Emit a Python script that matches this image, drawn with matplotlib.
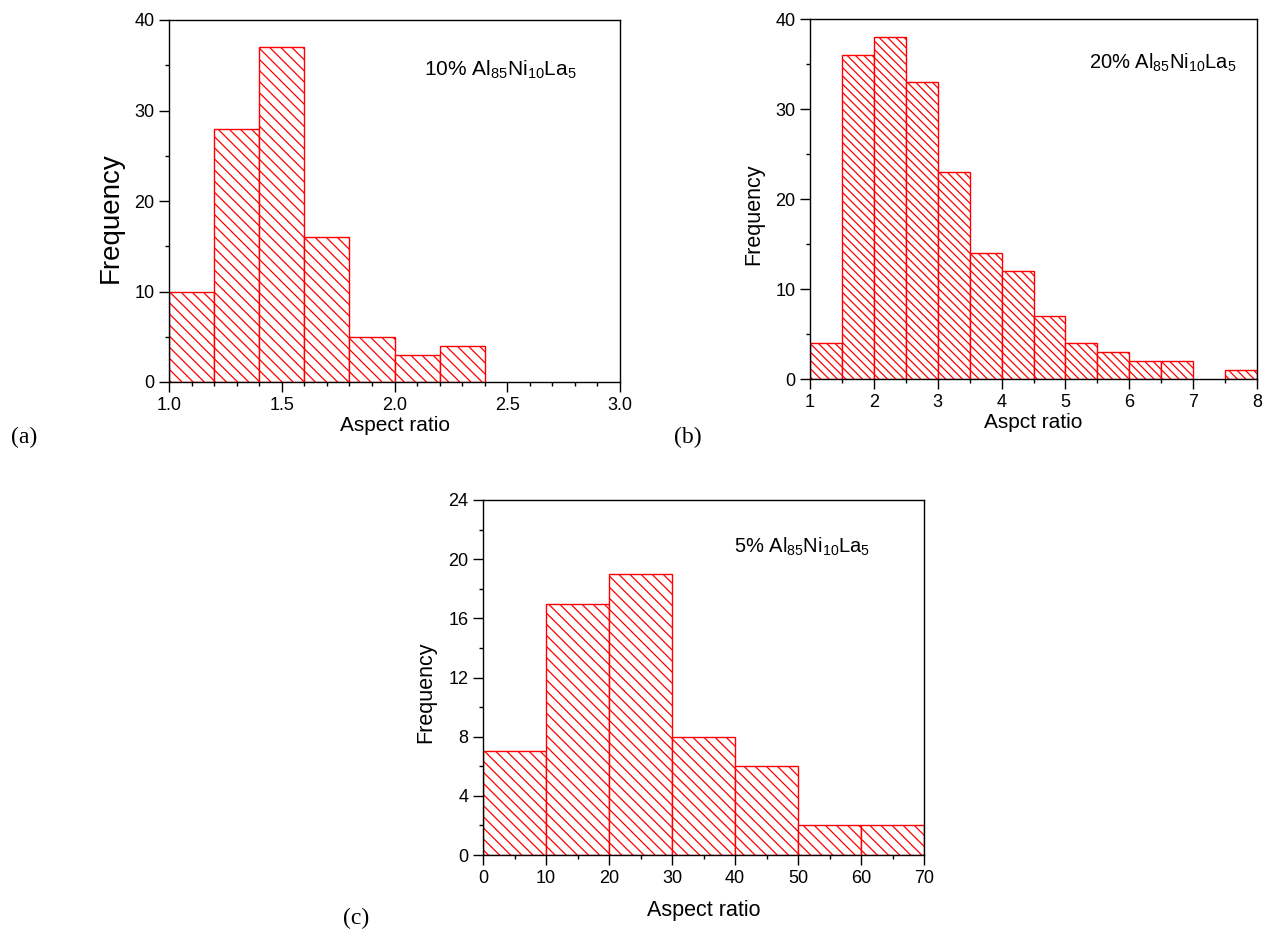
import numpy as np
import matplotlib
matplotlib.use('Agg')
import matplotlib.pyplot as plt
from matplotlib.ticker import MultipleLocator, FormatStrFormatter

plt.rcParams['font.family'] = ['Liberation Sans', 'DejaVu Sans']
plt.rcParams['mathtext.fontset'] = 'custom'
plt.rcParams['mathtext.rm'] = 'Liberation Sans'
plt.rcParams['mathtext.it'] = 'Liberation Sans'
plt.rcParams['hatch.linewidth'] = 0.9

# (a) 10% Al85Ni10La5
edges_a = [1.0, 1.2, 1.4, 1.6, 1.8, 2.0, 2.2, 2.4]
counts_a = [10, 28, 37, 16, 5, 3, 4]

# (b) 20% Al85Ni10La5
edges_b = [1.0, 1.5, 2.0, 2.5, 3.0, 3.5, 4.0, 4.5, 5.0, 5.5, 6.0, 6.5, 7.0, 7.5, 8.0]
counts_b = [4, 36, 38, 33, 23, 14, 12, 7, 4, 3, 2, 2, 0, 1]

# (c) 5% Al85Ni10La5
edges_c = [0, 10, 20, 30, 40, 50, 60, 70]
counts_c = [7, 17, 19, 8, 6, 2, 2]

label_a = r'10% Al$_{85}$Ni$_{10}$La$_{5}$'
label_b = r'20% Al$_{85}$Ni$_{10}$La$_{5}$'
label_c = r'5% Al$_{85}$Ni$_{10}$La$_{5}$'


def draw_hist(ax, edges, counts, hatch):
    edges = np.asarray(edges, dtype=float)
    widths = np.diff(edges)
    for x0, w, c in zip(edges[:-1], widths, counts):
        if c == 0:
            continue
        ax.bar(x0, c, width=w, align='edge', facecolor='white',
               edgecolor='red', hatch=hatch, linewidth=1.0, zorder=2)


def style_axes(ax, xlim, ylim, xmaj, xmin, ymaj, ymin):
    ax.set_xlim(*xlim)
    ax.set_ylim(*ylim)
    ax.xaxis.set_major_locator(MultipleLocator(xmaj))
    ax.xaxis.set_minor_locator(MultipleLocator(xmin))
    ax.yaxis.set_major_locator(MultipleLocator(ymaj))
    ax.yaxis.set_minor_locator(MultipleLocator(ymin))
    ax.tick_params(which='both', direction='out', top=False, right=False,
                   labelsize=13, width=1.0)
    ax.tick_params(which='major', length=7)
    ax.tick_params(which='minor', length=3)
    for sp in ax.spines.values():
        sp.set_linewidth(1.0)
        sp.set_zorder(5)


fig = plt.figure(figsize=(12.7, 9.39), dpi=100)

ax1 = fig.add_axes([169 / 1270, 1 - 382 / 939, 451 / 1270, 362 / 939])
draw_hist(ax1, edges_a, counts_a, '\\' * 3)
style_axes(ax1, (1.0, 3.0), (0, 40), 0.5, 0.1, 10, 5)
ax1.xaxis.set_major_formatter(FormatStrFormatter('%.1f'))
ax1.set_xlabel('Aspect ratio', fontsize=15, labelpad=2)
ax1.set_ylabel('Frequency', fontsize=20)
ax1.yaxis.set_label_coords(-0.100, 0.453)
ax1.text(2.13, 34.5, label_a, fontsize=15, va='center', ha='left')

ax2 = fig.add_axes([810 / 1270, 1 - 379 / 939, 447 / 1270, 360 / 939])
draw_hist(ax2, edges_b, counts_b, '\\' * 4)
style_axes(ax2, (1, 8), (0, 40), 1, 0.5, 10, 5)
ax2.set_xlabel('Aspct ratio', fontsize=15, labelpad=2)
ax2.set_ylabel('Frequency', fontsize=15.5)
ax2.yaxis.set_label_coords(-0.103, 0.458)
ax2.text(5.37, 35.1, label_b, fontsize=14.5, va='center', ha='left')

ax3 = fig.add_axes([483 / 1270, 1 - 855 / 939, 441 / 1270, 355 / 939])
draw_hist(ax3, edges_c, counts_c, '\\' * 3)
style_axes(ax3, (0, 70), (0, 24), 10, 5, 4, 2)
ax3.set_xlabel('Aspect ratio', fontsize=15.5, labelpad=10)
ax3.set_ylabel('Frequency', fontsize=15.5)
ax3.yaxis.set_label_coords(-0.107, 0.459)
ax3.text(39.8, 20.85, label_c, fontsize=14.5, va='center', ha='left')

fig.text(24 / 1270, 1 - 437 / 939, '(a)', family='Liberation Serif',
         fontsize=17, ha='center', va='center')
fig.text(688 / 1270, 1 - 437 / 939, '(b)', family='Liberation Serif',
         fontsize=17, ha='center', va='center')
fig.text(356 / 1270, 1 - 918 / 939, '(c)', family='Liberation Serif',
         fontsize=17, ha='center', va='center')

fig.savefig('out.png', dpi=100)
